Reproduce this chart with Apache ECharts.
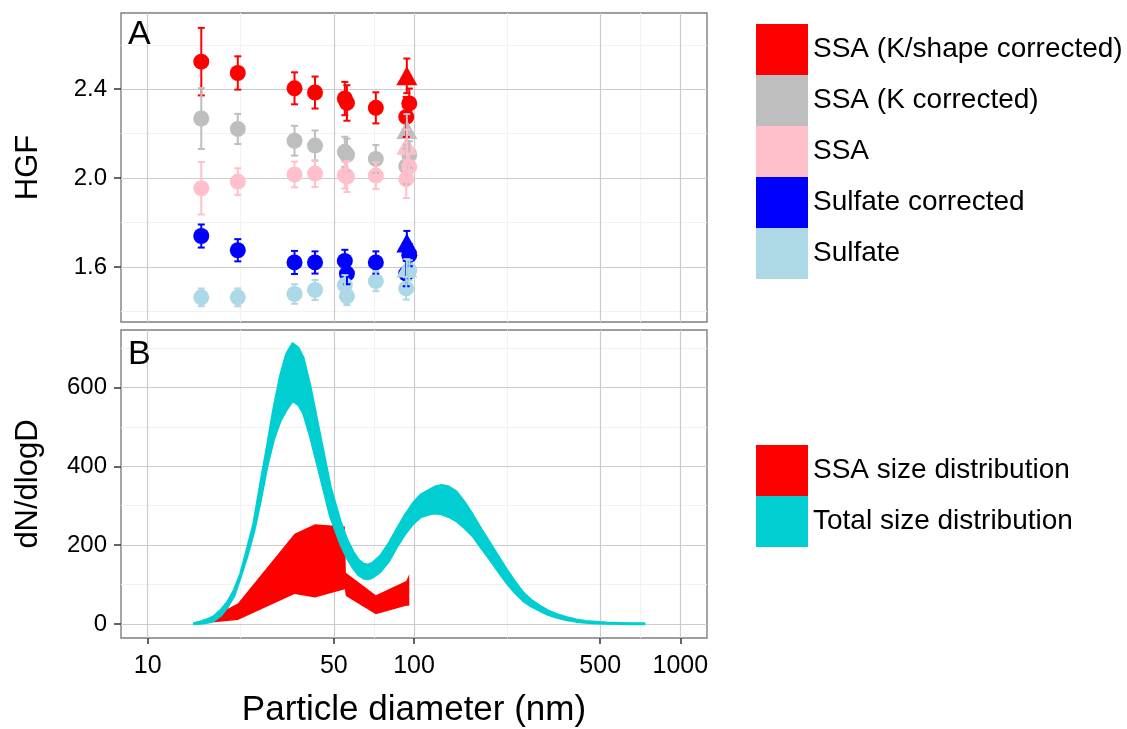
<!DOCTYPE html>
<html>
<head>
<meta charset="utf-8">
<script src="https://cdn.jsdelivr.net/npm/echarts@6/dist/echarts.min.js"></script>
<style>
  html, body { margin: 0; background: #fff; }
  #chart { width: 1127px; height: 729px; }
</style>
</head>
<body>
<div id="chart"></div>
<script>
// particle diameters (nm) of the HGF measurements
const diam = [15.9, 21.8, 35.6, 42.5, 55.0, 56.0, 71.9, 93.5, 96.0]
const triDiam = 94.0

const groupNames = ['SSA (K/shape corrected)', 'SSA (K corrected)', 'SSA', 'Sulfate corrected', 'Sulfate']
const groupColors = ['#FF0000', '#BEBEBE', '#FFC0CB', '#0000FF', '#ADD8E6']

// HGF values, one per diameter
const hgfKShape = [2.524, 2.473, 2.404, 2.385, 2.358, 2.338, 2.316, 2.275, 2.336]
const hgfK = [2.268, 2.221, 2.168, 2.146, 2.118, 2.105, 2.086, 2.053, 2.106]
const hgfSSA = [1.954, 1.984, 2.016, 2.020, 2.013, 2.007, 2.011, 1.995, 2.050]
const hgfSulfCorr = [1.739, 1.675, 1.620, 1.620, 1.627, 1.570, 1.620, 1.570, 1.653]
const hgfSulf = [1.463, 1.463, 1.478, 1.496, 1.518, 1.468, 1.536, 1.503, 1.585]

const errKShape = [0.152, 0.075, 0.072, 0.072, 0.075, 0.080, 0.070, 0.090, 0.067]
const errK = [0.137, 0.068, 0.067, 0.068, 0.068, 0.072, 0.063, 0.080, 0.060]
const errSSA = [0.118, 0.060, 0.058, 0.060, 0.060, 0.070, 0.060, 0.085, 0.060]
const errSulfCorr = [0.052, 0.050, 0.052, 0.050, 0.050, 0.048, 0.050, 0.057, 0.050]
const errSulf = [0.040, 0.040, 0.044, 0.045, 0.045, 0.040, 0.045, 0.050, 0.045]

// triangle points (one per group)
const triHGF = [2.460, 2.218, 2.148, 1.708, 1.595]
const triErr = [0.078, 0.070, 0.070, 0.054, 0.040]

// size distributions
const ssaDiam = [15.9, 21.8, 35.6, 42.5, 55.0, 55.5, 71.9, 93.5, 96.0]
const ssaLower = [1, 10, 76, 67, 88, 71, 25, 46, 46]
const ssaUpper = [4, 52, 229, 253, 247, 130, 73, 109, 126]

const totDiam = [14.95, 15.8, 16.8, 17.7, 18.8, 19.9, 21.1, 22.3, 23.6, 25.0, 26.5, 28.1, 29.7, 31.5, 33.2, 35.0,
  36.8, 38.4, 40.8, 44.5, 48.5, 52.8, 56.0, 59.1, 61.8, 64.6, 67.0, 69.6, 74.6, 80.6, 86.1, 92.5, 99.4, 106.2,
  114.8, 120, 126.9, 135, 144.5, 155, 166.7, 179, 192.5, 207, 222.3, 239, 256.6, 275, 296.3, 318, 342.2,
  372, 406.6, 440, 483, 530, 590.7, 660, 732.6]
const totUpper = [2, 6, 12, 19, 35, 55, 85, 127, 189, 255, 355, 450, 545, 630, 685, 711,
  700, 675, 602, 475, 349, 262, 215, 183, 163, 152, 150, 154, 172, 205, 240, 276, 307, 328,
  341, 348, 352, 348, 335, 308, 275, 240, 206, 172, 139, 108, 80, 61, 46, 34, 25,
  17, 11, 7, 5, 3, 2, 1, 1]
const totLower = [0, 1, 4, 8, 21, 42, 71, 118, 170, 231, 310, 400, 467, 515, 543, 566,
  556, 535, 475, 374, 273, 205, 168, 142, 125, 116, 114, 117, 132, 160, 195, 228, 255, 272,
  279, 281, 279, 272, 261, 243, 222, 193, 164, 134, 105, 80, 59, 45, 34, 24, 17,
  11, 6, 4, 2, 1, 0.5, 0, 0]

// axis breaks
const xTicks = [10, 50, 100, 500, 1000]
const xMinor = [22.36, 70.71, 223.6, 707.1]
const yTicksA = [1.6, 2.0, 2.4]
const yMinorA = [1.4, 1.8, 2.2, 2.6]
const yTicksB = [0, 200, 400, 600]
const yMinorB = [100, 300, 500, 700]

const FONT = "'Liberation Sans', Arial, Helvetica, sans-serif"
const lg = Math.log10
const X_MIN = 0.9
const X_MAX = 3.1

const groupHGF = [hgfKShape, hgfK, hgfSSA, hgfSulfCorr, hgfSulf]
const groupErr = [errKShape, errK, errSSA, errSulfCorr, errSulf]

const majorGrid = { show: true, lineStyle: { color: '#cccccc', width: 1.2 } }
const minorGrid = { show: true, lineStyle: { color: '#f2f2f2', width: 1 } }
const tickStyle = { color: '#333', width: 1.5 }

function xAxisOf(grid, major, showLabels) {
  const vals = (major ? xTicks : xMinor).map(lg)
  return {
    type: 'value', gridIndex: grid, min: X_MIN, max: X_MAX, z: major ? 1 : 0,
    position: 'bottom',
    axisLine: { show: false, onZero: false },
    axisTick: { show: major && showLabels, customValues: vals, length: 6, lineStyle: tickStyle },
    axisLabel: {
      show: major && showLabels, customValues: vals, fontSize: 25, color: '#000', fontFamily: FONT, margin: 16,
      formatter: (v) => String(Math.round(Math.pow(10, v))),
    },
    splitLine: major ? majorGrid : minorGrid,
    name: major && showLabels ? 'Particle diameter (nm)' : '',
    nameLocation: 'middle', nameGap: 55,
    nameTextStyle: { fontSize: 35, color: '#000', fontFamily: FONT },
  }
}

function yAxisOf(grid, major, ticks, min, max, name, fmt) {
  return {
    type: 'value', gridIndex: grid, min, max, z: major ? 1 : 0,
    position: 'left',
    axisLine: { show: false, onZero: false },
    axisTick: { show: major, customValues: ticks, length: 7, lineStyle: tickStyle },
    axisLabel: { show: major, customValues: ticks, fontSize: 24, color: '#000', fontFamily: FONT, margin: 14, formatter: fmt },
    splitLine: major ? majorGrid : minorGrid,
    name: major ? name : '',
    nameLocation: 'middle', nameGap: 77,
    nameTextStyle: { fontSize: 31, color: '#000', fontFamily: FONT },
  }
}

const series = []

// points
groupNames.forEach((name, g) => {
  const data = diam.map((d, i) => [lg(d), groupHGF[g][i]])
  data.push({ value: [lg(triDiam), triHGF[g]], symbol: 'triangle', symbolSize: [21, 19] })
  series.push({
    type: 'scatter', name, xAxisIndex: 0, yAxisIndex: 0, z: 2,
    symbol: 'circle', symbolSize: 16,
    itemStyle: { color: groupColors[g], opacity: 1 },
    data,
  })
})

// error bars
groupNames.forEach((name, g) => {
  const data = diam.map((d, i) => [lg(d), groupHGF[g][i], groupErr[g][i]])
  data.push([lg(triDiam), triHGF[g], triErr[g]])
  const color = groupColors[g]
  series.push({
    type: 'custom', name: name + ' error', xAxisIndex: 0, yAxisIndex: 0, z: 3,
    encode: { x: 0, y: 1 },
    data,
    renderItem: (params, api) => {
      const x = api.value(0)
      const y = api.value(1)
      const e = api.value(2)
      const top = api.coord([x, y + e])
      const bot = api.coord([x, y - e])
      const w = 3.5
      const st = { stroke: color, lineWidth: 2 }
      return {
        type: 'group',
        children: [
          { type: 'line', shape: { x1: top[0], y1: top[1], x2: bot[0], y2: bot[1] }, style: st },
          { type: 'line', shape: { x1: top[0] - w, y1: top[1], x2: top[0] + w, y2: top[1] }, style: st },
          { type: 'line', shape: { x1: bot[0] - w, y1: bot[1], x2: bot[0] + w, y2: bot[1] }, style: st },
        ],
      }
    },
  })
})

function ribbon(name, xs, lo, hi, fill, stroke, lw) {
  const data = xs.map((d, i) => [lg(d), lo[i], hi[i]])
  return {
    type: 'custom', name, xAxisIndex: 1, yAxisIndex: 1, z: 2,
    encode: { x: 0, y: [1, 2] },
    itemStyle: { color: fill },
    data,
    renderItem: (params, api) => {
      if (params.dataIndex !== 0) return
      const up = data.map((p) => api.coord([p[0], p[2]]))
      const dn = data.map((p) => api.coord([p[0], p[1]])).reverse()
      return {
        type: 'polygon',
        shape: { points: up.concat(dn) },
        style: { fill, stroke, lineWidth: lw, lineJoin: 'round' },
      }
    },
  }
}

series.push(ribbon('SSA size distribution', ssaDiam, ssaLower, ssaUpper, '#FF0000', null, 0))
series.push(ribbon('Total size distribution', totDiam, totLower, totUpper, '#00CED1', '#00CED1', 2.5))

const legendText = { fontSize: 28, color: '#000', fontFamily: FONT }

const option = {
  animation: false,
  backgroundColor: '#fff',
  textStyle: { fontFamily: FONT },
  grid: [
    { left: 121, top: 13, width: 586, height: 309, show: true, borderColor: '#7f7f7f', borderWidth: 1.4, backgroundColor: 'transparent' },
    { left: 121, top: 330, width: 586, height: 309, show: true, borderColor: '#7f7f7f', borderWidth: 1.4, backgroundColor: 'transparent' },
  ],
  xAxis: [
    xAxisOf(0, true, false),
    xAxisOf(1, true, true),
    xAxisOf(0, false, false),
    xAxisOf(1, false, false),
  ],
  yAxis: [
    yAxisOf(0, true, yTicksA, 1.352, 2.743, 'HGF', (v) => v.toFixed(1)),
    yAxisOf(1, true, yTicksB, -35.5, 745.5, 'dN/dlogD', (v) => String(v)),
    yAxisOf(0, false, yMinorA, 1.352, 2.743, '', null),
    yAxisOf(1, false, yMinorB, -35.5, 745.5, '', null),
  ],
  legend: [
    {
      orient: 'vertical', left: 756, top: 24, padding: 0, itemWidth: 52, itemHeight: 51, itemGap: 0,
      icon: 'rect', selectedMode: false, textStyle: legendText,
      data: groupNames.map((n, g) => ({ name: n, itemStyle: { color: groupColors[g] } })),
    },
    {
      orient: 'vertical', left: 756, top: 445, padding: 0, itemWidth: 52, itemHeight: 51, itemGap: 0,
      icon: 'rect', selectedMode: false, textStyle: legendText,
      data: [
        { name: 'SSA size distribution', itemStyle: { color: '#FF0000' } },
        { name: 'Total size distribution', itemStyle: { color: '#00CED1' } },
      ],
    },
  ],
  graphic: [
    { type: 'text', left: 128, top: 18, z: 100, style: { text: 'A', fontSize: 34, fill: '#000', fontFamily: FONT } },
    { type: 'text', left: 128, top: 338, z: 100, style: { text: 'B', fontSize: 34, fill: '#000', fontFamily: FONT } },
  ],
  series,
}

const chart = echarts.init(document.getElementById('chart'))
chart.setOption(option)
</script>
</body>
</html>
